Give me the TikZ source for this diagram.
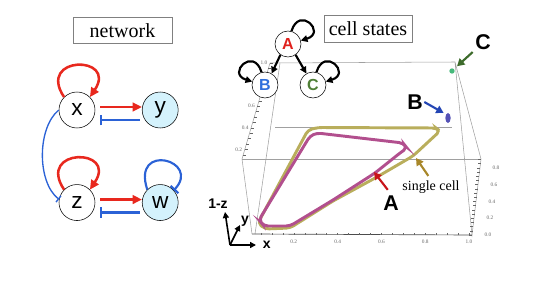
\documentclass[tikz,border=0pt]{standalone}
\usepackage{fontspec}
\setmainfont{Liberation Serif}
\setsansfont{Liberation Sans}
\usepackage{tikz}
\usetikzlibrary{arrows.meta,positioning,calc,shapes.geometric}
\definecolor{netred}{HTML}{E8281E}
\definecolor{netblue}{HTML}{2B62D6}
\definecolor{netcyan}{HTML}{D4F2FC}
\definecolor{framegray}{HTML}{A0A0A0}
\definecolor{cellyellow}{HTML}{B9AE5C}
\definecolor{cellpink}{HTML}{B24F8E}
\definecolor{stA}{HTML}{E0201C}
\definecolor{stB}{HTML}{2F6FDC}
\definecolor{stC}{HTML}{4F7F36}
\definecolor{arrA}{HTML}{C8141A}
\definecolor{arrB}{HTML}{2446B4}
\definecolor{arrC}{HTML}{3D6B2B}
\definecolor{arrS}{HTML}{A8872A}
\definecolor{dotB}{HTML}{5552B6}
\definecolor{dotC}{HTML}{46B97B}

\begin{document}
\begin{tikzpicture}[x=0.75pt,y=-0.75pt,
  gene/.style={circle,draw,thin,minimum size=27pt,inner sep=0pt,font=\sffamily\fontsize{17}{17}\selectfont},
  state/.style={circle,draw,thin,fill=white,minimum size=19.5pt,inner sep=0pt,font=\sffamily\bfseries\fontsize{12}{12}\selectfont},
  title/.style={draw=gray,line width=0.5pt,minimum height=20pt,inner sep=0pt,font=\fontsize{15}{15}\selectfont},
  act/.style={netred,line width=1.9pt,-{Triangle[length=7pt,width=6.5pt]}},
  inh/.style={netblue,line width=1.6pt,-{Bar[width=8pt]}},
  trans/.style={line width=1.6pt,-{Triangle[length=5pt,width=5pt]}},
  callout/.style={line width=1.6pt,-{Triangle[length=5.5pt,width=6pt]}},
  big/.style={font=\sffamily\bfseries\fontsize{16}{16}\selectfont,inner sep=1pt},
  frame/.style={framegray,line width=0.4pt},
  tick/.style={font=\fontsize{4}{4}\selectfont,text=black!60,inner sep=0pt},
  traj/.style={line width=2.2pt,rounded corners=3pt},
  axlbl/.style={font=\sffamily\bfseries\fontsize{10.5}{10.5}\selectfont,inner sep=1pt},
  axis/.style={line width=1.2pt,-{Triangle[length=4.5pt,width=4.5pt]}}]

  \useasboundingbox (0,0) rectangle (545,281);

  % network panel
  \node[title,minimum width=74pt] (nettitle) at (122.5,30.5) {network};
  \node[gene] (x) at (77,110) {x};
  \node[gene,fill=netcyan,right=35pt of x] (y) {y};
  \node[gene,below=42pt of x] (z) {z};
  \node[gene,fill=netcyan,right=35pt of z] (w) {w};

  \draw[act] (x.135) .. controls +(-28,-42) and +(28,-42) .. (x.45);
  \draw[act] ([shift={(5,-3)}]x.east) -- ([shift={(0,-3)}]y.west);
  \draw[inh] ([shift={(-2,10)}]y.west) -- ([shift={(5,10)}]x.east);
  \draw[netblue,line width=1pt,-{Bar[width=6pt]}] (x.180) .. controls (37,128) and (37,182) .. (z.170);
  \draw[act] (z.135) .. controls +(-28,-42) and +(28,-42) .. (z.45);
  \draw[act] ([shift={(5,-3)}]z.east) -- ([shift={(0,-3)}]w.west);
  \draw[inh] ([shift={(-2,10)}]w.west) -- ([shift={(5,10)}]z.east);
  \draw[inh] (w.135) .. controls +(-16,-48) and +(28,-30) .. (w.42);

  % cell states panel: plot frame
  \node[title,minimum width=66pt] (celltitle) at (368,29) {cell states};
  \coordinate (tl) at (270,63);
  \coordinate (tb) at (280,63);
  \coordinate (tr) at (455,62);
  \coordinate (zl) at (242,159);
  \coordinate (bl) at (252,234);
  \coordinate (bb) at (255,234);
  \coordinate (br) at (472,235);
  \coordinate (rr) at (481,159);
  \draw[frame] (tl) -- (tr) -- (rr) -- (br) -- (tr);
  \draw[frame] (275,127) -- (452,127);
  \draw[frame] (zl) -- (rr);
  \draw[frame] (tl) -- (zl) -- (bl);
  \draw[frame] (tb) -- (bb);
  \draw[black!70,line width=0.5pt] (bl) -- (br);

  \foreach \i in {1,...,20}
    \draw[black!60,line width=0.3pt] (250+10.95*\i,234.5) -- ++(0,-2);
  \foreach \v in {0.2,0.4,0.6,0.8,1.0}
    \node[tick] at (250+219*\v,242) {\v};
  \foreach \i in {0,...,18}
    \draw[black!60,line width=0.3pt] (472+0.5*\i,235-4.2*\i) -- ++(-3,0);
  \foreach \v in {0.0,0.2,0.4,0.6,0.8}
    \node[tick] at (488+10*\v,235-84*\v) {\v};
  \foreach \i in {3,...,20}
    \draw[black!60,line width=0.3pt] (238.5+1.575*\i,171-5.4*\i) -- ++(3,0);
  \foreach \v in {0.2,0.4,0.6,1.0}
    \node[tick] at (232.5+31.5*\v,171-108*\v) {\v};

  % trajectories
  \draw[traj,cellyellow] (258,223) -- (308,130) -- (318,127.5) -- (436,128) -- (440,131)
    -- (413,156) -- (377,177) -- (333,201) -- (290,228) -- (265,229) -- cycle;
  \draw[traj,cellpink] (259,220) -- (310,136) -- (317,133) -- (403,143) -- (407,148)
    -- (400,153) -- (375,173) -- (333,200) -- (290,226) -- (264,226) -- cycle;
  \coordinate (onA) at (374,172);
  \coordinate (onS) at (416,158);

  % state transitions
  \node[state,text=stA] (nA) at (288,44) {A};
  \node[state,text=stB] (nB) at (265,85) {B};
  \node[state,text=stC] (nC) at (313,85) {C};
  \draw[trans] (nA.75) .. controls +(8,-26) and +(26,-8) .. (nA.15);
  \draw[trans] (nB.105) .. controls +(-8,-26) and +(-26,-8) .. (nB.165);
  \draw[trans] (nC.75) .. controls +(8,-26) and +(26,-8) .. (nC.15);
  \draw[trans] (nA.235) -- (nB.60);
  \draw[trans] (nA.305) -- (nC.120);

  % fixed points and labels
  \node[circle,fill=dotC,inner sep=0pt,minimum size=4pt] (ptC) at (452,71) {};
  \node[ellipse,fill=dotB,inner sep=0pt,minimum width=4pt,minimum height=7.5pt] (ptB) at (448,118) {};
  \node[big] (lblC) at (483,42) {C};
  \node[big] (lblB) at (415,102) {B};
  \node[big] (lblA) at (391,203) {A};
  \node[font=\fontsize{10.5}{10.5}\selectfont] (lblS) at (431,187) {single cell};
  \draw[callout,arrC,shorten <=1pt,shorten >=3pt] (lblC.south west) -- (ptC.north east);
  \draw[callout,arrB,shorten >=2pt] (lblB.east) -- (ptB.north west);
  \draw[callout,arrA,shorten <=4pt] (lblA.north) -- (onA);
  \draw[callout,arrS] ([xshift=-2pt]lblS.north) -- (onS);

  % axis triad
  \coordinate (o) at (230,245);
  \coordinate (ox) at (256,245);
  \coordinate (oy) at (240,225);
  \coordinate (oz) at (225,212);
  \draw[axis] (o) -- (ox);
  \draw[axis] (o) -- (oy);
  \draw[axis] (o) -- (oz);
  \node[axlbl,right=4pt of ox] (ax) {x};
  \node[axlbl] (ay) at (245,221) {y};
  \node[axlbl] (az) at (218,204) {1-z};

\end{tikzpicture}
\end{document}
